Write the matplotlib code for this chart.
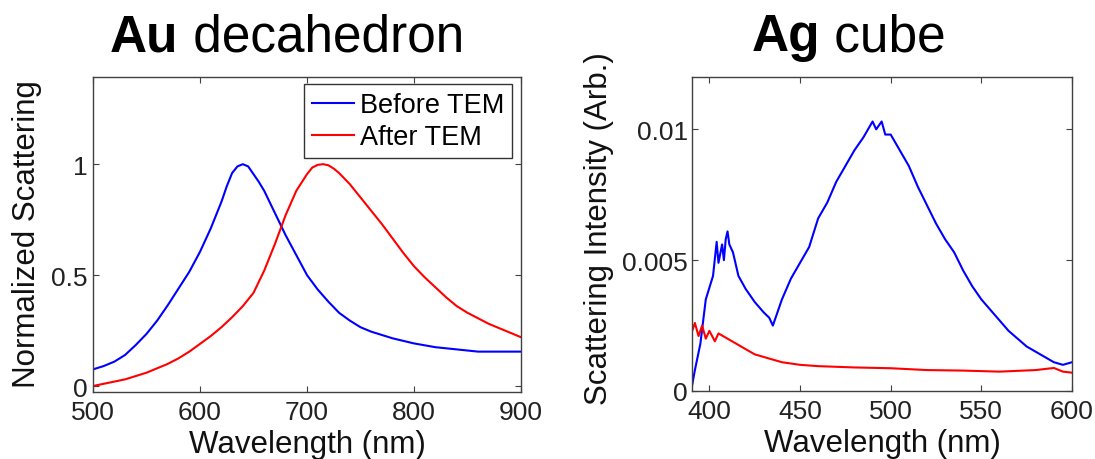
import matplotlib
matplotlib.use("Agg")
import matplotlib.pyplot as plt
from matplotlib.offsetbox import TextArea, HPacker, AnchoredOffsetbox

plt.rcParams['font.family'] = ['Liberation Sans', 'DejaVu Sans']

# ---- Au decahedron data ----
au_wl_before = [500, 510, 520, 530, 540, 550, 560, 570, 580, 590, 600, 610, 620, 625, 630,
                635, 640, 645, 650, 655, 660, 670, 680, 690, 700, 710, 720, 730, 740, 750,
                760, 780, 800, 820, 840, 860, 880, 900]
au_before = [0.075, 0.09, 0.11, 0.14, 0.185, 0.235, 0.295, 0.365, 0.44, 0.515, 0.605, 0.71,
             0.83, 0.90, 0.96, 0.99, 1.0, 0.99, 0.955, 0.92, 0.88, 0.78, 0.68, 0.59, 0.50,
             0.435, 0.38, 0.33, 0.295, 0.265, 0.245, 0.215, 0.192, 0.175, 0.165, 0.155,
             0.155, 0.155]
au_wl_after = [500, 510, 520, 530, 540, 550, 560, 570, 580, 590, 600, 610, 620, 630, 640,
               650, 660, 670, 680, 690, 700, 705, 710, 715, 720, 725, 730, 740, 750, 760,
               770, 780, 790, 800, 810, 820, 830, 840, 850, 860, 870, 880, 890, 900]
au_after = [0.0, 0.01, 0.02, 0.03, 0.045, 0.06, 0.08, 0.10, 0.125, 0.155, 0.19, 0.225,
            0.265, 0.31, 0.36, 0.42, 0.52, 0.64, 0.77, 0.88, 0.955, 0.985, 0.997, 1.0,
            0.995, 0.98, 0.96, 0.91, 0.85, 0.79, 0.73, 0.665, 0.60, 0.54, 0.49, 0.445,
            0.40, 0.36, 0.33, 0.305, 0.28, 0.26, 0.24, 0.22]

# ---- Ag cube data ----
ag_wl_before = [390, 392, 395, 398, 402, 404, 405, 407, 408, 409, 410, 411, 413, 416, 420,
                425, 430, 433, 435, 437, 440, 445, 450, 455, 460, 465, 470, 475, 480, 485,
                490, 492, 495, 497, 500, 505, 510, 515, 520, 525, 530, 535, 540, 545, 550,
                555, 560, 565, 570, 575, 580, 585, 590, 595, 600]
ag_before = [0.00004, 0.0008, 0.0018, 0.0035, 0.0044, 0.0057, 0.0049, 0.0056, 0.0050,
             0.0058, 0.0061, 0.0056, 0.0053, 0.0044, 0.0039, 0.0034, 0.0030, 0.0028,
             0.0025, 0.0029, 0.0035, 0.0043, 0.0049, 0.0055, 0.0066, 0.0072, 0.0080,
             0.0086, 0.0092, 0.0097, 0.0103, 0.0100, 0.0103, 0.0098, 0.0098, 0.0092,
             0.0086, 0.0078, 0.0071, 0.0064, 0.0058, 0.0053, 0.0046, 0.0040, 0.0035,
             0.0031, 0.0027, 0.0023, 0.0020, 0.0017, 0.0015, 0.0013, 0.0011, 0.0010,
             0.0011]
ag_wl_after = [390, 392, 394, 396, 398, 400, 403, 405, 410, 415, 420, 425, 430, 440, 450,
               460, 480, 500, 520, 540, 560, 580, 590, 595, 600]
ag_after = [0.0022, 0.0026, 0.0021, 0.0025, 0.0020, 0.0023, 0.0019, 0.0022, 0.0020,
            0.0018, 0.0016, 0.0014, 0.0013, 0.0011, 0.0010, 0.00095, 0.0009, 0.00087,
            0.0008, 0.00078, 0.00074, 0.0008, 0.00088, 0.00074, 0.0007]

au_xticks = [500, 600, 700, 800, 900]
au_yticks = [0, 0.5, 1]
au_yticklabels = ['0', '0.5', '1']
ag_xticks = [400, 450, 500, 550, 600]
ag_yticks = [0, 0.005, 0.01]
ag_yticklabels = ['0', '0.005', '0.01']

W, H = 1095, 460
fig = plt.figure(figsize=(W / 100, H / 100), dpi=100)


def px_axes(x0, x1, y0, y1):
    return fig.add_axes([x0 / W, 1 - y1 / H, (x1 - x0) / W, (y1 - y0) / H])


spine_col = '#404040'
tick_fs = 19
label_fs = 22.5

ax1 = px_axes(93, 521, 78, 393)
ax2 = px_axes(692, 1072, 78, 392)

ax1.plot(au_wl_before, au_before, color='#0000ff', lw=1.5, label='Before TEM')
ax1.plot(au_wl_after, au_after, color='#ff0000', lw=1.5, label='After TEM')
ax1.set_xlim(500, 900)
ax1.set_ylim(-0.027, 1.393)
ax1.set_xticks(au_xticks)
ax1.set_yticks(au_yticks)
ax1.set_yticklabels(au_yticklabels)

ax2.plot(ag_wl_before, ag_before, color='#0000ff', lw=1.5)
ax2.plot(ag_wl_after, ag_after, color='#ff0000', lw=1.5)
ax2.set_xlim(390.4, 600)
ax2.set_ylim(0, 0.012)
ax2.set_xticks(ag_xticks)
ax2.set_yticks(ag_yticks)
ax2.set_yticklabels(ag_yticklabels)

for ax, ypad in ((ax1, 4), (ax2, 3)):
    for s in ax.spines.values():
        s.set_color(spine_col)
        s.set_linewidth(1.0)
    ax.tick_params(direction='in', length=4, width=0.8, color=spine_col,
                   top=True, right=True, labelsize=tick_fs, labelcolor='#222222')
    ax.tick_params(axis='x', pad=6)
    ax.tick_params(axis='y', pad=ypad)
    ax.set_xlabel('Wavelength (nm)', fontsize=label_fs, va='baseline', color='#111111')

ax1.xaxis.set_label_coords(0.5, (392 - 452) / 315)
ax2.xaxis.set_label_coords(0.5, (392 - 452) / 314)

ax1.set_ylabel('Normalized Scattering', fontsize=label_fs, va='center', color='#111111')
ax1.yaxis.set_label_coords((27 - 93) / 428, 0.505)
ax2.set_ylabel('Scattering Intensity (Arb.)', fontsize=label_fs, va='center', color='#111111')
ax2.yaxis.set_label_coords((599 - 692) / 380, 0.52)

leg = ax1.legend(loc='upper right', bbox_to_anchor=(0.979, 0.978), borderaxespad=0,
                 fontsize=19.5, handlelength=1.55, handletextpad=0.2, labelspacing=0.22,
                 borderpad=0.3, fancybox=False, framealpha=1, edgecolor='#333333')
leg.get_frame().set_linewidth(1.0)

title_fs = 37


def mixed_title(bold, regular, xfrac):
    t1 = TextArea(bold, textprops=dict(fontsize=title_fs, fontweight='bold', color='black'))
    t2 = TextArea(' ' + regular, textprops=dict(fontsize=title_fs, color='black'))
    box = HPacker(children=[t1, t2], align='baseline', pad=0, sep=0)
    ab = AnchoredOffsetbox(loc='lower center', child=box, pad=0, frameon=False,
                           bbox_to_anchor=(xfrac, 1 - 62 / H),
                           bbox_transform=fig.transFigure, borderpad=0)
    fig.add_artist(ab)


mixed_title('Au', 'decahedron', 287 / W)
mixed_title('Ag', 'cube', 849 / W)

fig.savefig('out.png', dpi=100)
